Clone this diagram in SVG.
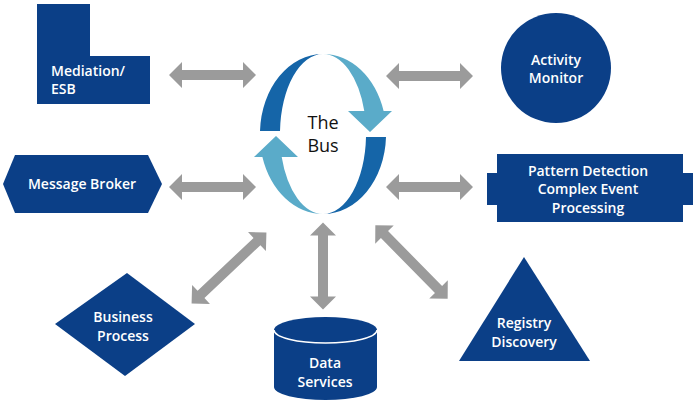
<svg xmlns="http://www.w3.org/2000/svg" width="700" height="411" viewBox="0 0 700 411">
<defs>
<style>
.node{fill:#0b3f87}
.lbl{font-family:"Open Sans","Liberation Sans",sans-serif;font-weight:600;font-size:14px;fill:#ffffff;text-anchor:middle}
.start{text-anchor:start}
.conn{fill:#9b9b9b}
.dark{fill:#1565a8}
.light{fill:#5aabc9}
</style>
<polygon id="dbl" points="-43.5,0 -30.5,-13 -30.5,-5 30.5,-5 30.5,-13 43.5,0 30.5,13 30.5,5 -30.5,5 -30.5,13"/>
<polygon id="dbl2" points="-51.5,0 -38.5,-13 -38.5,-5 38.5,-5 38.5,-13 51.5,0 38.5,13 38.5,5 -38.5,5 -38.5,13"/>
</defs>
<rect width="700" height="411" fill="#ffffff"/>
<g id="connectors" class="conn">
<use href="#dbl" transform="translate(212.5,75)"/>
<use href="#dbl" transform="translate(429.5,76)"/>
<use href="#dbl" transform="translate(212.5,187)"/>
<use href="#dbl" transform="translate(429.5,187)"/>
<use href="#dbl2" transform="translate(229,268) rotate(-43.4)"/>
<use href="#dbl" transform="translate(323,266) rotate(90)"/>
<use href="#dbl2" transform="translate(411.5,262) rotate(45.4)"/>
</g>
<g id="bus">
<path class="dark" d="M260,131 A63,80 0 0 1 323,54 A43,80 0 0 0 280,131 Z"/>
<path class="light" d="M323,54 A63,80 0 0 1 383.6,111 L392,111 L370,132 L348,111 L364.3,111 A43,80 0 0 0 323,54 Z"/>
<path class="dark" d="M386,137 A63,80 0 0 1 323,214 A43,80 0 0 0 366,137 Z"/>
<path class="light" d="M323,214 A63,80 0 0 1 262.4,157 L254,157 L276,136 L298,157 L281.7,157 A43,80 0 0 0 323,214 Z"/>
<text x="323" y="129" text-anchor="middle" font-family="'Open Sans','Liberation Sans',sans-serif" font-size="18" fill="#111111">The</text>
<text x="323" y="152" text-anchor="middle" font-family="'Open Sans','Liberation Sans',sans-serif" font-size="18" fill="#111111">Bus</text>
</g>
<g id="mediation">
<polygon class="node" points="37,4 90,4 90,56 150,56 150,104 37,104"/>
<text class="lbl start" x="51" y="76">Mediation/</text>
<text class="lbl start" x="51" y="94">ESB</text>
</g>
<g id="activity">
<circle class="node" cx="556" cy="68" r="55"/>
<text class="lbl" x="556" y="65">Activity</text>
<text class="lbl" x="556" y="83">Monitor</text>
</g>
<g id="broker">
<polygon class="node" points="3,184 15,155 148,155 162,184 148,213 15,213"/>
<text class="lbl" x="82" y="189">Message Broker</text>
</g>
<g id="pattern">
<polygon class="node" points="497,154 683,154 683,173 693,173 693,205 683,205 683,222 497,222 497,205 487,205 487,173 497,173"/>
<text class="lbl" x="588" y="176">Pattern Detection</text>
<text class="lbl" x="588" y="194">Complex Event</text>
<text class="lbl" x="588" y="213">Processing</text>
</g>
<g id="business">
<polygon class="node" points="55,324 127,273 195,324 125,376"/>
<text class="lbl" x="123" y="322">Business</text>
<text class="lbl" x="123" y="341">Process</text>
</g>
<g id="data">
<path class="node" d="M274,330 L274,387 A51.5,13 0 0 0 377,387 L377,330 A51.5,13 0 0 0 274,330 Z"/>
<path d="M274,330 A51.5,13 0 0 0 377,330" fill="none" stroke="#ffffff" stroke-width="1.5"/>
<text class="lbl" x="325" y="368">Data</text>
<text class="lbl" x="325" y="387">Services</text>
</g>
<g id="registry">
<polygon class="node" points="524,257 590,361 459,361"/>
<text class="lbl" x="524" y="328">Registry</text>
<text class="lbl" x="524" y="347">Discovery</text>
</g>
</svg>
